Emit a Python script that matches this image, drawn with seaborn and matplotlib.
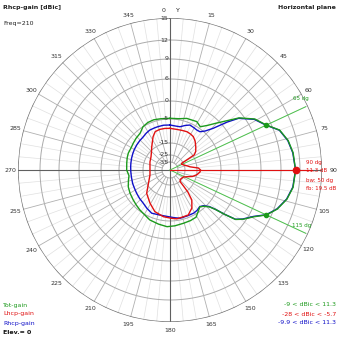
import numpy as np
import pandas as pd
import matplotlib
matplotlib.use("Agg")
import matplotlib.pyplot as plt
import matplotlib.transforms as mtransforms
import seaborn as sns

# ---------------- data ----------------
ring_db = [-60, -35, -25, -15, -5, 0, 6, 9, 12, 15]
ring_labels = ["-35", "-25", "-15", "-5", "0", "6", "9", "12", "15"]

tot_ang = [0, 10, 18, 29, 35, 40, 44, 48, 53, 59, 65, 70, 76, 82, 90, 98, 104, 110, 115,
           119, 124, 127, 129, 131, 133, 137, 141, 146, 151, 158, 166, 175, 183, 192, 202,
           210, 217, 224, 231, 240, 248, 256, 262, 270, 279, 286, 292, 299, 306, 313, 321,
           328, 335, 342, 350, 360]
tot_db = [-4.8, -4.7, -4.1, -3.8, -4.5, -3.0, -1.2, 1.0, 4.8, 7.2, 8.3, 9.9, 10.7, 11.1, 11.3,
          11.1, 10.5, 9.5, 8.3, 6.8, 5.2, 3.6, 0.5, -2.5, -4.1, -5.6, -6.5, -5.3, -4.2, -4.0,
          -3.9, -3.6, -3.4, -3.8, -4.2, -4.9, -5.4, -6.0, -6.5, -7.0, -7.5, -8.4, -9.0, -8.2,
          -8.0, -7.7, -7.5, -7.6, -7.3, -6.9, -6.5, -5.0, -4.6, -4.5, -4.7, -4.8]

rhcp_ang = [0, 8, 13, 19, 24, 29, 34, 38, 42, 46, 50, 53, 59, 65, 70, 76, 82, 90, 98, 104,
            110, 115, 119, 124, 127, 129, 131, 133, 137, 141, 146, 151, 158, 168, 175, 182,
            192, 203, 211, 219, 227, 235, 243, 250, 260, 268, 275, 280, 287, 294, 300, 307,
            314, 321, 327, 333, 340, 345, 352, 360]
rhcp_db = [-7.5, -7.8, -7.75, -6.6, -5.75, -6.0, -6.2, -6.0, -4.6, -2.5, 1.5, 4.6, 7.1, 8.25,
           9.85, 10.65, 11.05, 11.3, 11.05, 10.45, 9.45, 8.25, 6.7, 5.1, 3.5, 0.4, -2.6, -4.3,
           -5.9, -6.6, -6.0, -5.75, -5.8, -5.7, -6.3, -6.8, -7.0, -6.7, -7.6, -8.5, -8.9, -9.3,
           -9.6, -9.7, -9.9, -9.9, -9.8, -9.7, -9.5, -9.3, -9.1, -8.9, -8.7, -8.5, -8.0, -7.6,
           -7.55, -7.5, -7.4, -7.5]

lhcp_ang = [0, 9, 17, 24, 30, 35, 41, 48, 54, 58, 59, 60, 63, 70, 76, 81, 86, 90, 94, 100,
            106, 112, 118, 125, 132, 139, 140, 141, 144, 150, 158, 166, 172, 178, 188, 200,
            211, 225, 238, 256, 268, 279, 292, 305, 314, 322, 333, 339, 346, 353, 360]
lhcp_db = [-8.9, -9.1, -9.0, -8.8, -9.0, -9.3, -10.3, -11.8, -13.0, -14.3, -21.3, -27.0, -28.0,
           -25.5, -23.0, -20.6, -14.4, -13.5, -13.75, -14.9, -18.0, -22.5, -25.0, -26.0, -26.5,
           -24.7, -19.75, -14.4, -10.8, -8.0, -6.0, -5.96, -5.7, -6.1, -6.6, -7.8, -10.1, -12.5,
           -16.3, -20.3, -20.8, -20.6, -19.5, -18.2, -16.0, -13.9, -10.7, -9.1, -8.8, -8.8, -8.9]

max_ang, max_db = 90, 11.3
bw_ang = [65, 115]
bw_db = [8.3, 8.3]

# ---------------- scale (ring positions, pixels of radius 152) ----------------
ring_px = np.array([0, 8, 15, 27, 51, 69, 91, 111, 130, 152], dtype=float)
RDB = np.array(ring_db, dtype=float)

def fwd(v):
    v = np.asarray(v, dtype=float)
    return np.interp(v, RDB, ring_px)

def inv(p):
    p = np.asarray(p, dtype=float)
    return np.interp(p, ring_px, RDB)

W = 339
fig = plt.figure(figsize=(W / 100, W / 100), dpi=100)
fig.patch.set_facecolor("white")
cx, cy, R = 170, 170, 152
ax = fig.add_axes([(cx - R) / W, (W - cy - R) / W, 2 * R / W, 2 * R / W], projection="polar")
ax.set_theta_zero_location("N")
ax.set_theta_direction(-1)
ax.set_rscale("function", functions=(fwd, inv))
ax.set_ylim(-60, 15)
ax.grid(False)
ax.set_xticks([])
ax.set_yticks([])
ax.spines["polar"].set_visible(False)
ax.set_facecolor("white")

full = np.linspace(0, 2 * np.pi, 721)
# rings
for d in ring_db[1:-1]:
    ax.plot(full, np.full_like(full, d), color="#ababab", lw=0.7, zorder=1)
ax.plot(full, np.full_like(full, 15.0), color="#707070", lw=1.0, zorder=3)
# spokes
for a in range(0, 360, 5):
    t = np.deg2rad(a)
    if a % 90 == 0:
        ax.plot([t, t], [-60, 15], color="#606060", lw=0.8, zorder=1.5)
    elif a % 15 == 0:
        ax.plot([t, t], [-35, 15], color="#b0b0b0", lw=0.6, zorder=1)
    else:
        ax.plot([t, t], [-15, 15], color="#e0e0e0", lw=0.5, zorder=0.8)

# marker lines
for a in bw_ang:
    t = np.deg2rad(a)
    ax.plot([t, t], [-60, 14.7], color="#4cc24c", lw=0.7, zorder=2)
ax.plot([np.deg2rad(90)] * 2, [-60, 13.7], color="#e01010", lw=0.8, zorder=2)

# curves via seaborn
df_tot = pd.DataFrame({"theta": np.deg2rad(tot_ang), "dB": tot_db})
df_rh = pd.DataFrame({"theta": np.deg2rad(rhcp_ang), "dB": rhcp_db})
df_lh = pd.DataFrame({"theta": np.deg2rad(lhcp_ang), "dB": lhcp_db})
sns.lineplot(data=df_rh, x="theta", y="dB", sort=False, estimator=None, color="#1010c8",
             lw=1.0, ax=ax, zorder=4)
sns.lineplot(data=df_tot, x="theta", y="dB", sort=False, estimator=None, color="#1c9a1c",
             lw=1.0, ax=ax, zorder=5)
sns.lineplot(data=df_lh, x="theta", y="dB", sort=False, estimator=None, color="#e01010",
             lw=1.0, ax=ax, zorder=6)
ax.plot(np.deg2rad(bw_ang), bw_db, "o", color="#1c9a1c", ms=3, zorder=7)
ax.plot([np.deg2rad(max_ang)], [max_db], "o", color="#e01010", ms=4.5, zorder=7)
ax.set_xlabel("")
ax.set_ylabel("")
ax.set_ylim(-60, 15)

FS = 4.5
# ring labels
off = mtransforms.offset_copy(ax.transData, fig=fig, x=-1.5, y=0, units="dots")
for d, lab in zip(ring_db[1:], ring_labels):
    ax.text(0, d, lab, transform=off, ha="right", va="center", fontsize=FS, color="#333333", zorder=8)

# angle labels
for a in range(0, 360, 15):
    t = np.deg2rad(a)
    rr = 0.5 * 160 / 152
    x = 0.5 + rr * np.sin(t)
    y = 0.5 + rr * np.cos(t)
    if a == 0:
        x -= 0.02
    if a == 90:
        x += 0.012
    ax.text(x, y, str(a), transform=ax.transAxes, ha="center", va="center",
            fontsize=FS, color="#333333", clip_on=False)
ax.text(0.5 + 0.025, 0.5 + 0.5 * 160 / 152, "Y", transform=ax.transAxes, ha="center",
        va="center", fontsize=FS, color="#222222", clip_on=False)

def ftxt(x, y, s, **kw):
    kw.setdefault("fontsize", FS)
    kw.setdefault("va", "center")
    fig.text(x / W, 1 - y / W, s, **kw)

ftxt(3, 7, "Rhcp-gain [dBic]", fontweight="bold", color="#222222")
ftxt(3, 24, "Freq=210", color="#222222")
ftxt(336, 7, "Horizontal plane", fontweight="bold", color="#222222", ha="right")
ftxt(3, 305, "Tot-gain", color="#1c9a1c")
ftxt(3, 314, "Lhcp-gain", color="#e01010")
ftxt(3, 324, "Rhcp-gain", color="#1010c8")
ftxt(3, 333, "Elev.= 0", color="#111111", fontweight="bold")
ftxt(336, 305, "-9 < dBic < 11.3", color="#1c9a1c", ha="right")
ftxt(336, 314, "-28 < dBic < -5.7", color="#e01010", ha="right")
ftxt(336, 323, "-9.9 < dBic < 11.3", color="#1010c8", ha="right")
# beam annotations
AFS = 4.0
ftxt(306, 162, "90 dg", color="#e01010", fontsize=AFS)
ftxt(306, 170, "11.3 dB", color="#e01010", fontsize=AFS)
ftxt(306, 180, "bw: 50 dg", color="#e01010", fontsize=AFS)
ftxt(306, 188, "fb: 19.5 dB", color="#e01010", fontsize=AFS)
ftxt(293, 98, "65 dg", color="#1c9a1c", fontsize=AFS)
ftxt(292, 226, "115 dg", color="#1c9a1c", fontsize=AFS)

fig.savefig("out.png", dpi=100, facecolor="white")
